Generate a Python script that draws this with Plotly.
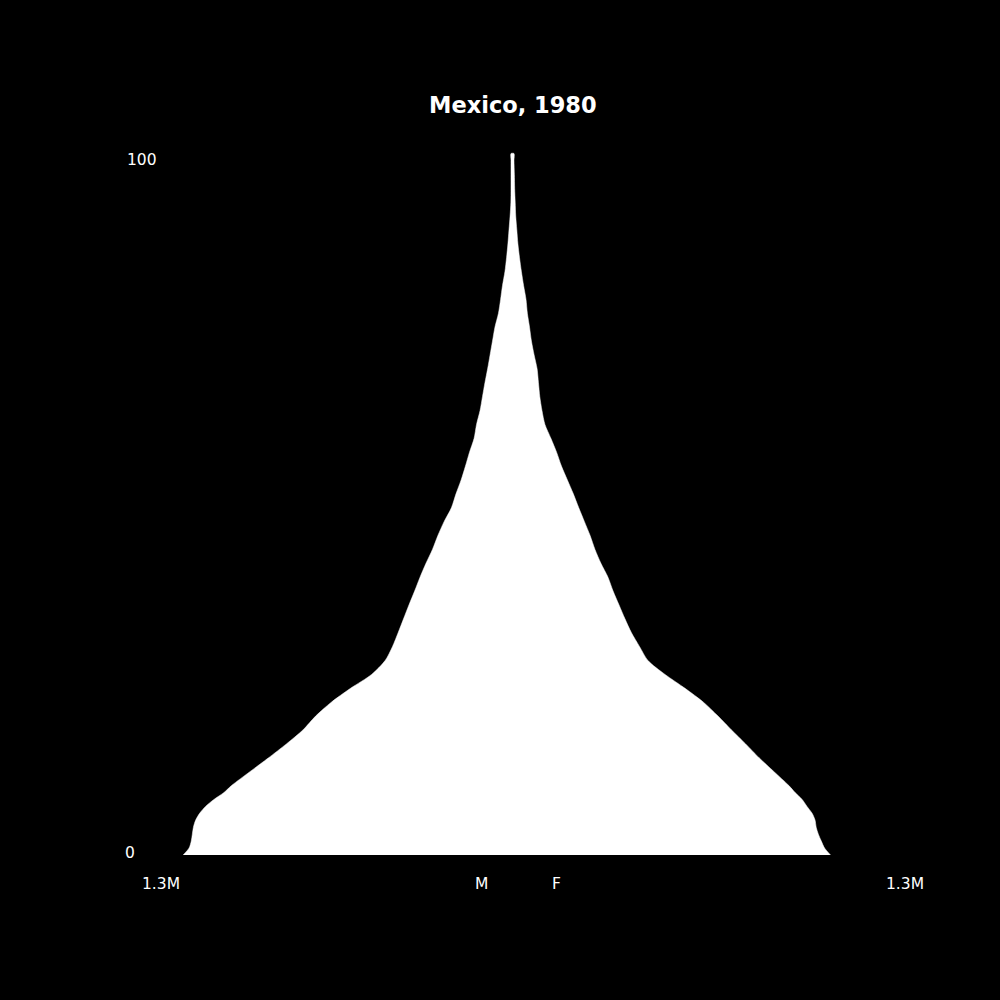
import plotly.graph_objects as go

# Age (years) and population (thousands)
ages = [0, 1, 2, 3, 4, 5, 6, 7, 8, 9, 10, 12, 14, 16, 18, 20, 22, 24, 26, 28,
        30, 32, 34, 36, 38, 40, 42, 44, 46, 48, 50, 52, 54, 56, 58, 60, 62, 64,
        66, 68, 70, 72, 74, 76, 78, 80, 82, 84, 86, 88, 90, 92, 94, 96, 98, 100, 101]

male = [1218, 1196, 1188, 1184, 1180, 1172, 1157, 1135, 1104, 1067, 1039, 971, 902,
        836, 775, 728, 670, 599, 521, 471, 444, 423, 403, 383, 362, 342, 320, 296,
        276, 253, 226, 209, 190, 174, 159, 142, 133, 120, 111, 102, 92, 83, 74, 65,
        52, 44, 37, 28, 22, 17, 13, 9, 6, 5.5, 5.5, 5.5, 5.5]

female = [1176, 1154, 1142, 1131, 1123, 1119, 1108, 1089, 1071, 1045, 1022, 967, 912,
          862, 810, 760, 706, 638, 564, 501, 470, 440, 416, 394, 372, 353, 327, 305,
          287, 266, 245, 225, 203, 181, 163, 142, 120, 109, 101, 96, 91, 80, 70, 63,
          55, 50, 41, 33, 26, 20, 16, 12, 10, 8, 7, 5.5, 5.5]

title_text = "Mexico, 1980"
x_tick_text = "1.3M"
y_tick_labels = ["0", "100"]
sex_labels = ["M", "F"]

xs = [-m for m in male] + list(reversed(female))
ys = ages + list(reversed(ages))

fig = go.Figure()
fig.add_trace(go.Scatter(
    x=xs, y=ys, mode="lines", fill="toself",
    fillcolor="white", line=dict(color="white", width=0.5, shape="spline", smoothing=0.8),
    hoverinfo="skip", showlegend=False,
))

px_per_k = 1 / 3.698
cx = 512.5
base_y = 855.0
py_per_age = 6.945

fig.update_layout(
    width=1000, height=1000,
    paper_bgcolor="black", plot_bgcolor="black",
    margin=dict(l=0, r=0, t=0, b=0),
    xaxis=dict(range=[-cx / px_per_k, (1000 - cx) / px_per_k], visible=False,
               showgrid=False, zeroline=False, fixedrange=True),
    yaxis=dict(range=[(base_y - 1000) / py_per_age, base_y / py_per_age], visible=False,
               showgrid=False, zeroline=False, fixedrange=True),
    showlegend=False,
)

font = dict(family="DejaVu Sans", size=15.5, color="white")

def ann(text, px, py, f=font):
    fig.add_annotation(text=text, xref="paper", yref="paper",
                       x=px / 1000, y=1 - py / 1000, showarrow=False,
                       xanchor="center", yanchor="middle", font=f)

ann("<b>" + title_text + "</b>", 512.5, 105, dict(family="DejaVu Sans", size=22.5, color="white"))
ann(y_tick_labels[1], 141.5, 160)
ann(y_tick_labels[0], 130, 853)
ann(x_tick_text, 161, 884)
ann(x_tick_text, 905, 884)
ann(sex_labels[0], 481, 884)
ann(sex_labels[1], 556, 884)

fig.write_html(
    "out.html",
    config={"displayModeBar": False},
    post_script="document.body.style.margin='0';document.body.style.background='black';"
                "document.body.style.overflow='hidden';",
)
